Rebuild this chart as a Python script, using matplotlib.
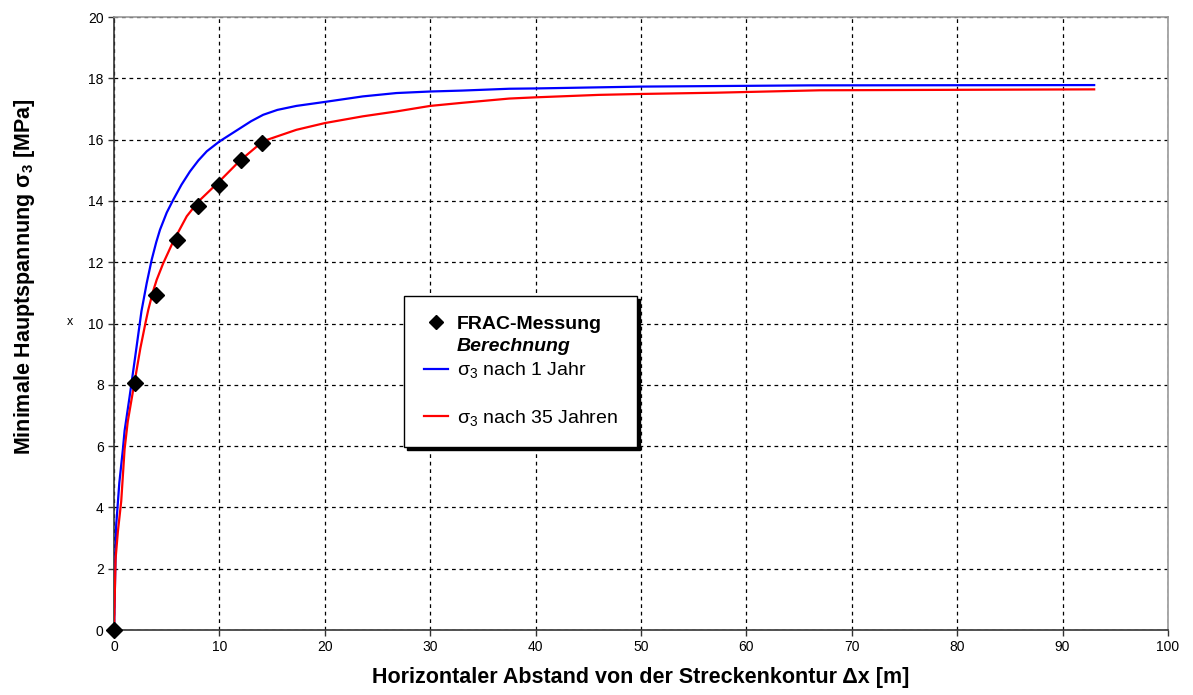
import matplotlib.pyplot as plt
from matplotlib.lines import Line2D

plt.rcParams["font.family"] = ["Liberation Sans", "DejaVu Sans"]
plt.rcParams["mathtext.fontset"] = "custom"
plt.rcParams["mathtext.rm"] = "Liberation Sans"
plt.rcParams["mathtext.it"] = "Liberation Sans:italic"
plt.rcParams["mathtext.bf"] = "Liberation Sans:bold"

# FRAC-Messungen
frac_x = [0, 2, 4, 6, 8, 10, 12, 14]
frac_y = [0, 8.05, 10.93, 12.72, 13.83, 14.53, 15.32, 15.90]

# Berechnung: sigma_3 nach 1 Jahr
jahr1_x = [0, 0.2, 0.5, 0.84, 1.0, 1.47, 2.0, 2.6, 3.1, 3.57, 4.0, 4.36, 5.0, 5.62,
           6.4, 7.2, 8.0, 8.8, 10, 11, 12, 13, 14.15, 15.5, 17.3, 20, 23.6, 26.8,
           30, 33, 37.5, 40, 45, 50, 66, 93]
jahr1_y = [0, 3.4, 4.8, 5.9, 6.5, 7.6, 8.9, 10.4, 11.32, 12.08, 12.65, 13.06, 13.62,
           14.04, 14.53, 14.96, 15.32, 15.62, 15.94, 16.16, 16.38, 16.6, 16.81,
           16.97, 17.1, 17.23, 17.41, 17.52, 17.57, 17.6, 17.66, 17.67, 17.7,
           17.73, 17.77, 17.78]

# Berechnung: sigma_3 nach 35 Jahren
jahr35_x = [0, 0.14, 0.36, 0.68, 1.0, 1.3, 2.0, 2.5, 3.0, 3.25, 3.7, 4.05, 4.67, 5.62,
            6.9, 8.0, 10, 11.9, 14.15, 17.3, 20, 23.6, 26.8, 30, 33, 37.5, 40, 43, 46,
            50, 57, 62, 67, 93]
jahr35_y = [0, 2.3, 3.2, 4.2, 5.9, 6.8, 8.2, 9.2, 10.05, 10.45, 11.05, 11.43, 11.97,
            12.68, 13.5, 13.98, 14.64, 15.3, 15.95, 16.32, 16.54, 16.76, 16.92, 17.1,
            17.2, 17.34, 17.38, 17.42, 17.46, 17.49, 17.53, 17.57, 17.61, 17.64]

fig = plt.figure(figsize=(11.93, 6.95), dpi=100)
ax = fig.add_axes([0.0956, 0.0935, 0.8834, 0.882])

ax.plot(jahr1_x, jahr1_y, color="#0000ff", lw=1.6, zorder=3)
ax.plot(jahr35_x, jahr35_y, color="#ff0000", lw=1.6, zorder=3)
ax.plot(frac_x, frac_y, ls="none", marker="D", ms=8.5, color="black", zorder=4,
        clip_on=False)

ax.set_xlim(0, 100)
ax.set_ylim(0, 20)
ax.set_xticks(range(0, 101, 10))
ax.set_yticks(range(0, 21, 2))
ax.grid(True, color="black", ls=(0, (3, 3)), lw=0.9)
ax.tick_params(labelsize=10, length=4, width=1, color="#333333", direction="out")

for s in ["left", "bottom"]:
    ax.spines[s].set_color("#333333")
    ax.spines[s].set_linewidth(1.2)
for s in ["top", "right"]:
    ax.spines[s].set_color("#999999")
    ax.spines[s].set_linewidth(1.2)

ax.set_xlabel("Horizontaler Abstand von der Streckenkontur Δx [m]",
              fontsize=15.5, fontweight="bold", labelpad=9)
ax.set_ylabel("Minimale Hauptspannung σ$_\\mathbf{3}$ [MPa]",
              fontsize=15.5, fontweight="bold")
ax.yaxis.set_label_coords(-0.0735, 0.577)
fig.text(70 / 1193, 1 - 322 / 695, "x", fontsize=9, ha="center", va="center")

# Legende mit Ueberschrift ohne Symbol
handles = [
    Line2D([], [], ls="none", marker="D", ms=7, color="black"),
    Line2D([], [], ls="none"),
    Line2D([], [], color="#0000ff", lw=1.6),
    Line2D([], [], ls="none"),
    Line2D([], [], color="#ff0000", lw=1.6),
]
labels = ["FRAC-Messung", "Berechnung", "σ$_3$ nach 1 Jahr", " ",
          "σ$_3$ nach 35 Jahren"]
leg = ax.legend(handles, labels, loc="upper left", bbox_to_anchor=(0.2755, 0.545),
                fontsize=14, frameon=True, fancybox=False, framealpha=1,
                edgecolor="black", shadow={"color": "black", "alpha": 1},
                handlelength=1.25, labelspacing=0.25, borderpad=1.0,
                borderaxespad=0, handletextpad=0.45)
leg.get_frame().set_linewidth(1)
txt = leg.get_texts()
txt[0].set_fontweight("bold")
txt[1].set_fontweight("bold")
txt[1].set_fontstyle("italic")
leg.set_zorder(5)

fig.savefig("out.png", dpi=100)
